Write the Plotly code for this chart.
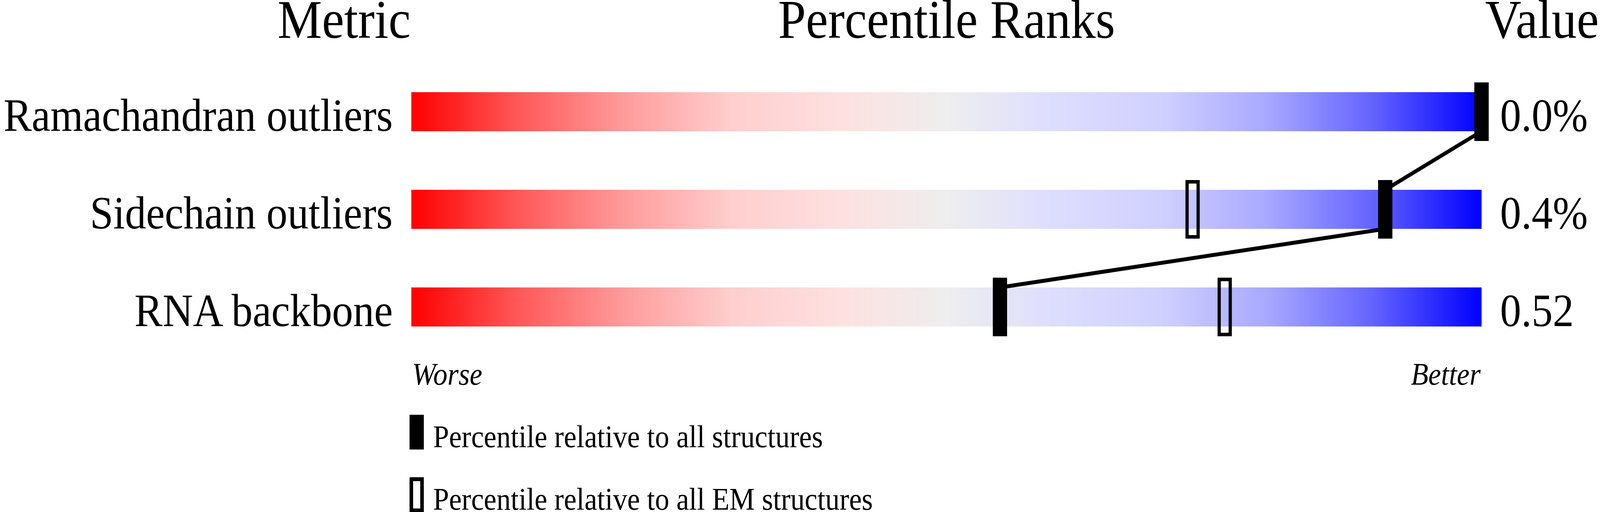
import numpy as np
import plotly.graph_objects as go

# ---------------- data ----------------
metrics = ["Ramachandran outliers", "Sidechain outliers", "RNA backbone"]
pct_all = [100, 91, 55]          # percentile relative to all structures
pct_em = [100, 73, 76]           # percentile relative to all EM structures
values = ["0.0%", "0.4%", "0.52"]
headers = ["Metric", "Percentile Ranks", "Value"]
scale_labels = ["Worse", "Better"]
legend_labels = ["Percentile relative to all structures",
                 "Percentile relative to all EM structures"]

# ---------------- geometry / style ----------------
W, H = 4485, 1311
XR = [-5, 105]
YR = [2.5, -0.5]
ML, MR, MT, MB = 1003, 182, 161, 400
PW, PH = W - ML - MR, H - MT - MB
PX_PER_X = PW / (XR[1] - XR[0])
PX_PER_Y = PH / abs(YR[0] - YR[1])
BAR_HALF = 50 / PX_PER_Y
MK_HALF_W = 20 / PX_PER_X
MK_HALF_H = 75 / PX_PER_Y
EM_LW = 9
FONT = "Liberation Serif"


def px2paper_x(px):
    return (px - ML) / PW


def px2paper_y(py):
    return (H - MB - py) / PH


def data2px_x(v):
    return ML + (v - XR[0]) * PX_PER_X


colorscale = [
    [0.00, "#FF0000"],
    [0.10, "#FF5858"],
    [0.20, "#FF9C9C"],
    [0.30, "#FFCECE"],
    [0.40, "#FEE0E0"],
    [0.50, "#EEEEEE"],
    [0.60, "#DDDDFF"],
    [0.70, "#D0D0FF"],
    [0.80, "#A8A8FF"],
    [0.90, "#6262FF"],
    [1.00, "#0000FF"],
]

fig = go.Figure()

# gradient bars
edges = np.linspace(0, 100, 601)
mids = (edges[:-1] + edges[1:]) / 2
for i, m in enumerate(metrics):
    fig.add_trace(go.Heatmap(
        x=edges, y=[i - BAR_HALF, i + BAR_HALF], z=[mids],
        colorscale=colorscale, zmin=0, zmax=100, showscale=False,
        hoverinfo="skip", xgap=0, ygap=0,
    ))

# connecting line between "all structures" markers
lx, ly = [], []
for i in range(len(metrics) - 1):
    lx += [pct_all[i], pct_all[i + 1], None]
    ly += [i + BAR_HALF, i + 1 - BAR_HALF, None]
fig.add_trace(go.Scatter(x=lx, y=ly, mode="lines",
                         line=dict(color="black", width=10),
                         hoverinfo="skip", showlegend=False))

shapes = []
# EM markers (hollow)
ins_x = (EM_LW / 2) / PX_PER_X
ins_y = (EM_LW / 2) / PX_PER_Y
for i, p in enumerate(pct_em):
    shapes.append(dict(type="rect", xref="x", yref="y",
                       x0=p - MK_HALF_W + ins_x, x1=p + MK_HALF_W - ins_x,
                       y0=i - MK_HALF_H + ins_y, y1=i + MK_HALF_H - ins_y,
                       line=dict(color="black", width=EM_LW),
                       fillcolor="rgba(0,0,0,0)"))
# all-structure markers (filled)
for i, p in enumerate(pct_all):
    shapes.append(dict(type="rect", xref="x", yref="y",
                       x0=p - MK_HALF_W, x1=p + MK_HALF_W,
                       y0=i - MK_HALF_H, y1=i + MK_HALF_H,
                       line=dict(width=0), fillcolor="black"))

# legend keys
shapes.append(dict(type="rect", xref="paper", yref="paper",
                   x0=px2paper_x(1148), x1=px2paper_x(1188),
                   y0=px2paper_y(1151), y1=px2paper_y(1062),
                   line=dict(width=0), fillcolor="black"))
shapes.append(dict(type="rect", xref="paper", yref="paper",
                   x0=px2paper_x(1153), x1=px2paper_x(1183),
                   y0=px2paper_y(1307), y1=px2paper_y(1227),
                   line=dict(color="black", width=10),
                   fillcolor="rgba(0,0,0,0)"))

annotations = []


def text_at(txt, px, baseline, size, anchor, italic=False):
    # place text so its baseline sits at `baseline` (pixels from top)
    bottom = baseline + 0.216 * size + 2
    annotations.append(dict(
        text=txt, xref="paper", yref="paper",
        x=px2paper_x(px), y=px2paper_y(bottom),
        xanchor=anchor, yanchor="bottom", showarrow=False,
        font=dict(family=FONT, size=size, color="black",
                  style="italic" if italic else "normal"),
    ))


# headers
text_at(headers[0], data2px_x(0), 97, 140, "right")
text_at(headers[1], data2px_x(50), 97, 140, "center")
text_at(headers[2], W - 1, 97, 140, "right")

# row labels and values
for i, m in enumerate(metrics):
    base = H - MB - (YR[0] - i) * PX_PER_Y + 50
    text_at(m, data2px_x(0) - 50, base, 118, "right")
    text_at(values[i], data2px_x(100) + 50, base, 118, "left")

# scale labels
text_at(scale_labels[0], data2px_x(0), 985, 80, "left", italic=True)
text_at(scale_labels[1], data2px_x(100), 985, 80, "right", italic=True)

# legend labels
text_at(legend_labels[0], 1212, 1145, 80, "left")
text_at(legend_labels[1], 1212, 1305, 80, "left")

fig.update_layout(
    width=W, height=H,
    margin=dict(l=ML, r=MR, t=MT, b=MB, pad=0),
    paper_bgcolor="white", plot_bgcolor="white",
    xaxis=dict(range=XR, visible=False, fixedrange=True),
    yaxis=dict(range=YR, visible=False, fixedrange=True),
    shapes=shapes, annotations=annotations,
    showlegend=False,
)

# fit the fixed-size figure into the actual browser viewport
post = """
(function(){
  document.documentElement.style.margin='0';
  document.body.style.margin='0';
  document.documentElement.style.overflow='hidden';
  document.body.style.overflow='hidden';
  var gd=document.getElementById('{plot_id}');
  var sx=window.innerWidth/%d, sy=window.innerHeight/%d;
  if (Math.abs(sx-1)>0.001 || Math.abs(sy-1)>0.001) {
    gd.style.transformOrigin='0 0';
    gd.style.transform='scale('+sx+','+sy+')';
  }
})();
""" % (W, H)

fig.write_html("out.html", post_script=post,
               config={"displayModeBar": False, "staticPlot": True})
